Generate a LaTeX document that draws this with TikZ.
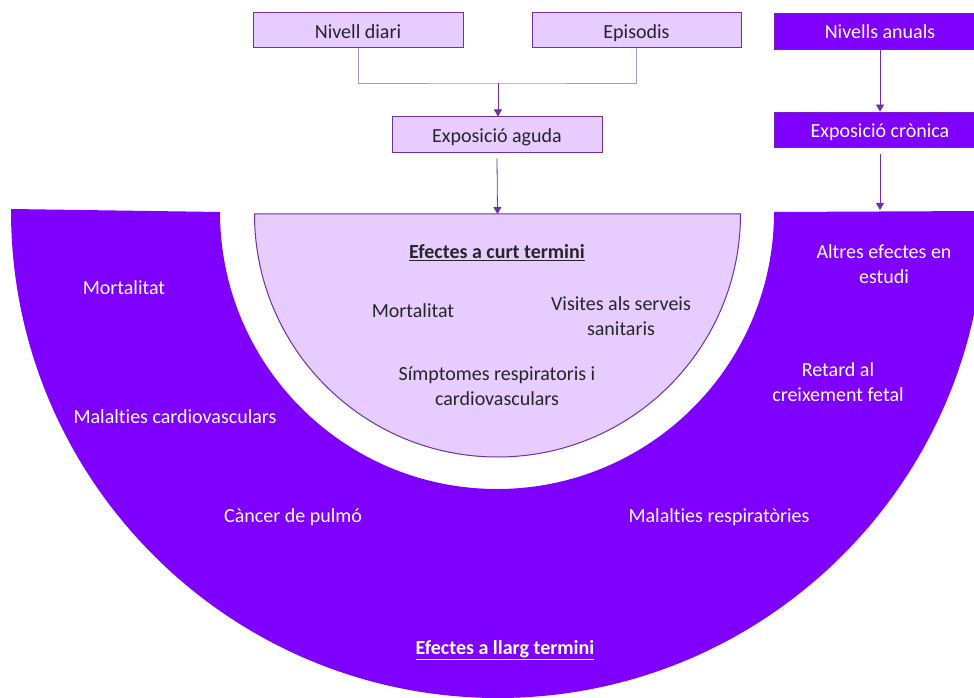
\documentclass[tikz,border=0pt]{standalone}
\usepackage{fontspec}
\setmainfont{Carlito}[Ligatures=NoCommon]
\usetikzlibrary{arrows.meta}
\definecolor{vivid}{HTML}{8000FF}
\definecolor{lav}{HTML}{E6CCFF}
\definecolor{edge}{HTML}{7030A0}
\definecolor{grayline}{HTML}{A99BC0}
\definecolor{ink}{HTML}{262626}
\newcommand{\labfont}{\fontsize{20}{25}\selectfont}
\tikzset{
  boxtext/.style={text height=17pt, text depth=1pt},
  lightbox/.style={draw=edge, line width=1pt, fill=lav, minimum height=35pt, minimum width=210pt, inner sep=0pt, text=ink, font=\labfont, boxtext},
  darkbox/.style={draw=edge!60!vivid, line width=0.8pt, fill=vivid, minimum height=35pt, minimum width=212pt, inner sep=0pt, text=white, font=\labfont, boxtext},
  darklabel/.style={text=white, align=center, font=\labfont, inner sep=0pt},
  lightlabel/.style={text=ink, align=center, font=\labfont, inner sep=0pt},
  arr/.style={draw=edge, line width=0.8pt, -{Triangle[width=8pt,length=7pt]}},
  plain/.style={draw=grayline, line width=0.8pt}
}
\begin{document}
\begin{tikzpicture}[x=1pt,y=1pt]
\useasboundingbox (0,0) rectangle (974,697);
\clip (0,0) rectangle (974,697);
% big long-term shape
\fill[vivid] (11,488) -- (220,485) arc[start angle=180,end angle=360,radius=277] -- (985,486) arc[start angle=0,end angle=-180,radius=487] -- cycle;
% light short-term half disk
\draw[edge, line width=1pt, fill=lav] (254.5,483) arc[start angle=180,end angle=360,radius=243] -- cycle;
% boxes
\node[lightbox] (diari) at (358,666.5) {Nivell diari};
\node[lightbox, minimum width=209pt] (epis) at (636.5,666.5) {Episodis};
\node[lightbox, minimum height=36pt] (aguda) at (497,562) {Exposició aguda};
\node[darkbox, minimum height=36pt] (anuals) at (880,666) {Nivells anuals};
\node[darkbox] (cronica) at (880,567.5) {Exposició crònica};
% connectors
\coordinate (join) at (498,614);
\coordinate (curt) at (497.5,483);
\coordinate (llarg) at (880,487);
\draw[plain] (diari.south) |- (join) -| (epis.south);
\draw[arr] (join) -- (aguda.north -| join);
\draw[arr] ([yshift=-5pt]aguda.south) -- (curt);
\draw[arr] (anuals.south) -- (cronica.north);
\draw[arr] ([yshift=-7pt]cronica.south) -- (llarg);
% short-term labels
\node[lightlabel, font=\labfont\bfseries] (curttitle) at (497,444) {\underline{Efectes a curt termini}};
\node[lightlabel] (cmort) at (413,386) {Mortalitat};
\node[lightlabel] (cvis) at (621,381) {Visites als serveis\\sanitaris};
\node[lightlabel] (csim) at (497,311) {Símptomes respiratoris i\\cardiovasculars};
% long-term labels
\node[darklabel] (lmort) at (124,409) {Mortalitat};
\node[darklabel] (lcard) at (175,280) {Malalties cardiovasculars};
\node[darklabel] (lcanc) at (293,180) {Càncer de pulmó};
\node[darklabel] (lresp) at (719,180) {Malalties respiratòries};
\node[darklabel] (lret) at (838,315) {Retard al\\creixement fetal};
\node[darklabel] (lalt) at (884,433) {Altres efectes en\\estudi};
\node[darklabel, font=\labfont\bfseries] (llargtitle) at (505,47) {\underline{Efectes a llarg termini}};
\end{tikzpicture}
\end{document}
